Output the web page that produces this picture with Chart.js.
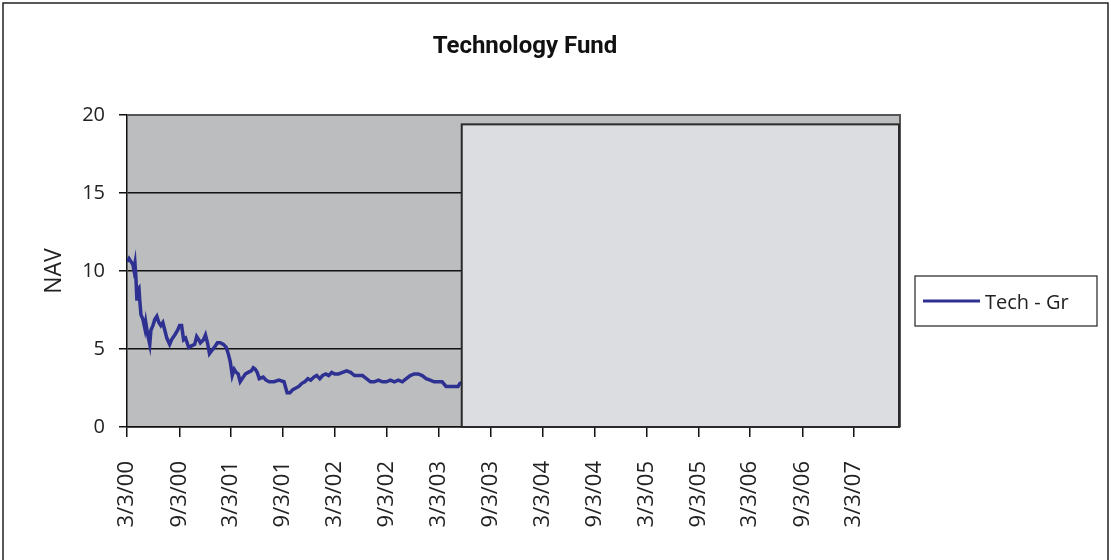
<!DOCTYPE html>
<html>
<head>
<meta charset="utf-8">
<script src="https://cdn.jsdelivr.net/npm/chart.js@4.4.1/dist/chart.umd.min.js"></script>
<style>
  html, body { margin: 0; padding: 0; background: #ffffff; }
  #wrap { position: relative; width: 1111px; height: 560px; }
</style>
</head>
<body>
<div id="wrap"><canvas id="c" width="1111" height="560"></canvas></div>
<script>
// ---- data ----
const chartTitle = 'Technology Fund';
const seriesLabel = 'Tech - Gr';
const yAxisTitle = 'NAV';
const tickLabels = ['3/3/00','9/3/00','3/3/01','9/3/01','3/3/02','9/3/02','3/3/03','9/3/03',
  '3/3/04','9/3/04','3/3/05','9/3/05','3/3/06','9/3/06','3/3/07'];
const yTicks = [0, 5, 10, 15, 20];
const navDates = [
  '2000-03-03','2000-03-10','2000-03-17','2000-03-24','2000-03-27','2000-03-31','2000-04-03','2000-04-07',
  '2000-04-10','2000-04-14','2000-04-17','2000-04-21','2000-04-28','2000-05-05','2000-05-08','2000-05-15',
  '2000-05-22','2000-05-26','2000-06-02','2000-06-09','2000-06-16','2000-06-23','2000-06-30','2000-07-07',
  '2000-07-14','2000-07-21','2000-07-31','2000-08-07','2000-08-18','2000-08-28','2000-09-04','2000-09-11',
  '2000-09-18','2000-09-25','2000-10-06','2000-10-16','2000-10-27','2000-11-03','2000-11-10','2000-11-16',
  '2000-11-27','2000-12-04','2000-12-11','2000-12-18','2000-12-26','2001-01-04','2001-01-15','2001-01-25',
  '2001-02-05','2001-02-15','2001-02-22','2001-03-01','2001-03-08','2001-03-15','2001-03-22','2001-03-29',
  '2001-04-05','2001-04-12','2001-04-23','2001-05-03','2001-05-14','2001-05-21','2001-05-28','2001-06-04',
  '2001-06-11','2001-06-25','2001-07-05','2001-07-16','2001-08-02','2001-08-19','2001-09-06','2001-09-17',
  '2001-09-27','2001-10-07','2001-10-18','2001-10-28','2001-11-08','2001-11-18','2001-11-29','2001-12-09',
  '2001-12-20','2001-12-30','2002-01-10','2002-01-20','2002-01-31','2002-02-10','2002-02-21','2002-03-03',
  '2002-03-17','2002-03-31','2002-04-14','2002-04-28','2002-05-12','2002-05-26','2002-06-09','2002-06-23',
  '2002-07-07','2002-07-21','2002-08-04','2002-08-18','2002-09-01','2002-09-15','2002-09-29','2002-10-13',
  '2002-10-27','2002-11-10','2002-11-24','2002-12-08','2002-12-22','2003-01-05','2003-01-19','2003-02-02',
  '2003-02-16','2003-03-02','2003-03-16','2003-03-30','2003-04-13','2003-04-27','2003-05-11','2003-05-18',
  // hidden behind the grey panel in the reference (rough guesses)
  '2003-09-03','2004-03-03','2004-09-03','2005-03-03','2005-09-03','2006-03-03','2006-09-03','2007-03-03',
  '2007-08-12'
];
const navValues = [
  10.6,10.8,10.6,10.4,10.1,10.5,9.7,8.1,
  8.8,8.9,8.1,7.2,6.9,6.3,6.7,5.9,
  5.3,6.2,6.5,6.9,7.1,6.7,6.5,6.7,
  6.2,5.7,5.3,5.6,5.9,6.2,6.5,6.5,
  5.6,5.7,5.1,5.2,5.3,5.8,5.6,5.4,
  5.6,5.9,5.4,4.7,4.9,5.1,5.4,5.4,
  5.3,5.1,4.7,4.2,3.3,3.7,3.5,3.4,
  2.9,3.1,3.4,3.5,3.6,3.8,3.7,3.5,
  3.1,3.2,3.0,2.9,2.9,3.0,2.9,2.2,
  2.2,2.4,2.5,2.6,2.8,2.9,3.1,3.0,
  3.2,3.3,3.1,3.3,3.4,3.3,3.5,3.4,
  3.4,3.5,3.6,3.5,3.3,3.3,3.3,3.1,
  2.9,2.9,3.0,2.9,2.9,3.0,2.9,3.0,
  2.9,3.1,3.3,3.4,3.4,3.3,3.1,3.0,
  2.9,2.9,2.9,2.6,2.6,2.6,2.6,2.8,
  3.6,4.4,4.2,5.0,6.5,9.0,10.5,13.0,
  15.8
];
// grey panel covering the later part of the plot
const panelStart = '2003-05-24';
const panelTop = 19.4;

// ---- helpers ----
const BASE = Date.UTC(2000, 2, 3);
const DAY = 86400000;
function isoDay(s) { const [y, m, d] = s.split('-').map(Number); return (Date.UTC(y, m - 1, d) - BASE) / DAY; }
function labelDay(s) { const [m, d, y] = s.split('/').map(Number); return (Date.UTC(2000 + y, m - 1, d) - BASE) / DAY; }
const points = navDates.map((d, i) => ({ x: isoDay(d), y: navValues[i] }));
const tickMap = {};
tickLabels.forEach(l => { tickMap[labelDay(l)] = l; });

const FONT = "'Open Sans', 'Liberation Sans', sans-serif";

const decor = {
  id: 'decor',
  beforeDraw(chart) {
    const { ctx, chartArea: a } = chart;
    ctx.save();
    ctx.fillStyle = '#ffffff';
    ctx.fillRect(0, 0, chart.width, chart.height);
    // outer frame
    ctx.strokeStyle = '#222';
    ctx.lineWidth = 1.5;
    ctx.strokeRect(3, 3, chart.width - 6, chart.height + 10);
    // plot background
    ctx.fillStyle = '#bcbdbf';
    ctx.fillRect(a.left, a.top, a.right - a.left, a.bottom - a.top);
    ctx.restore();
  },
  afterDatasetsDraw(chart) {
    const { ctx, chartArea: a, scales: { x, y } } = chart;
    ctx.save();
    // plot border
    ctx.strokeStyle = '#555';
    ctx.lineWidth = 2;
    ctx.beginPath();
    ctx.moveTo(a.left, a.top); ctx.lineTo(a.right, a.top); ctx.lineTo(a.right, a.bottom);
    ctx.stroke();
    // covering panel
    const px = x.getPixelForValue(isoDay(panelStart));
    const py = y.getPixelForValue(panelTop);
    ctx.fillStyle = '#dcdde1';
    ctx.fillRect(px, py, a.right - px, a.bottom - py);
    ctx.strokeStyle = '#2a2a2a';
    ctx.lineWidth = 2;
    ctx.strokeRect(px, py, a.right - px - 1, a.bottom - py);
    // title
    ctx.fillStyle = '#111';
    ctx.font = "bold 24px Roboto, 'Open Sans', sans-serif";
    ctx.textAlign = 'center';
    ctx.textBaseline = 'middle';
    ctx.fillText(chartTitle, 525, 47);
    // legend
    const lx = 915, ly = 276, lw = 182, lh = 50;
    ctx.fillStyle = '#fff';
    ctx.fillRect(lx, ly, lw, lh);
    ctx.strokeStyle = '#222';
    ctx.lineWidth = 1.2;
    ctx.strokeRect(lx, ly, lw, lh);
    ctx.strokeStyle = chart.data.datasets[0].borderColor;
    ctx.lineWidth = 3;
    ctx.beginPath(); ctx.moveTo(lx + 8, ly + 25); ctx.lineTo(lx + 65, ly + 25); ctx.stroke();
    ctx.fillStyle = '#222';
    ctx.font = '20px ' + FONT;
    ctx.textAlign = 'left';
    ctx.fillText(chart.data.datasets[0].label, lx + 70, ly + 27);
    ctx.restore();
  }
};

new Chart(document.getElementById('c'), {
  type: 'line',
  data: {
    datasets: [{
      label: seriesLabel,
      data: points,
      borderColor: '#2e3192',
      borderWidth: 3.5,
      pointRadius: 0,
      tension: 0,
      fill: false
    }]
  },
  options: {
    responsive: false,
    animation: false,
    devicePixelRatio: 1,
    layout: { padding: { left: 0, top: 115, right: 211, bottom: 0 } },
    plugins: { legend: { display: false }, title: { display: false }, tooltip: { enabled: false } },
    scales: {
      x: {
        type: 'linear',
        min: 0,
        max: isoDay(navDates[navDates.length - 1]),
        afterFit(s) { s.height = 133; },
        afterBuildTicks(s) { s.ticks = tickLabels.map(l => ({ value: labelDay(l) })); },
        grid: { drawOnChartArea: false, drawTicks: true, tickLength: 10, color: '#111', lineWidth: 1.5 },
        border: { color: '#111', width: 1.5 },
        ticks: {
          autoSkip: false, minRotation: 90, maxRotation: 90, padding: 24,
          color: '#222', font: { family: FONT, size: 22 },
          callback: v => tickMap[v] || ''
        }
      },
      y: {
        min: 0, max: 20,
        afterFit(s) { s.width = 127; },
        afterBuildTicks(s) { s.ticks = yTicks.map(v => ({ value: v })); },
        grid: { color: '#111', lineWidth: 1.5, tickLength: 8 },
        border: { color: '#111', width: 1.5 },
        ticks: { padding: 14, color: '#222', font: { family: FONT, size: 20 } },
        title: { display: true, text: yAxisTitle, color: '#222', font: { family: FONT, size: 23 }, padding: { top: 41, bottom: 0 } }
      }
    }
  },
  plugins: [decor]
});
</script>
</body>
</html>
